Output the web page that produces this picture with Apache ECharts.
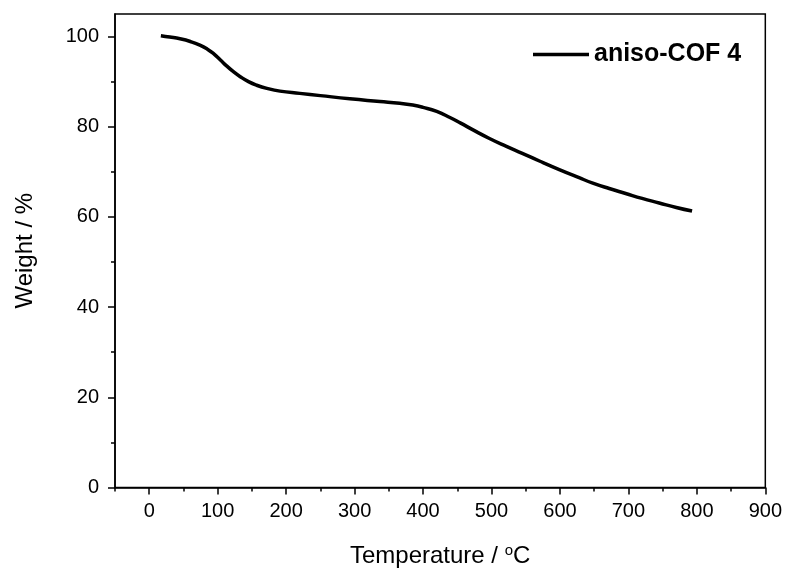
<!DOCTYPE html>
<html>
<head>
<meta charset="utf-8">
<script src="https://cdn.jsdelivr.net/npm/echarts@6/dist/echarts.min.js"></script>
<style>
  html, body { margin: 0; padding: 0; background: #fff; }
  #chart { width: 785px; height: 573px; }
</style>
</head>
<body>
<div id="chart"></div>
<script>
// TGA curve
const temps = [17, 30, 45, 60, 74, 85, 94, 104, 113, 123, 133, 145, 157, 172, 191, 220, 250, 293, 337, 366, 385, 400, 420, 440, 455, 473, 497, 521, 545, 570, 599, 628, 648, 672, 696, 720, 745, 770, 793]
const weights = [100.2, 99.9, 99.5, 98.9, 98.1, 97.2, 96.2, 94.8, 93.5, 92.2, 91.1, 90.0, 89.2, 88.5, 87.9, 87.4, 86.9, 86.2, 85.6, 85.2, 84.8, 84.3, 83.4, 82.0, 80.8, 79.3, 77.4, 75.7, 74.1, 72.4, 70.5, 68.7, 67.5, 66.3, 65.2, 64.1, 63.1, 62.1, 61.3]

const xTicks = [0, 100, 200, 300, 400, 500, 600, 700, 800, 900]
const xMinorTicks = [-50, 50, 150, 250, 350, 450, 550, 650, 750, 850]
const yTicks = [0, 20, 40, 60, 80, 100]
const yMinorTicks = [10, 30, 50, 70, 90]

const seriesName = 'aniso-COF 4'
const font = "'Liberation Sans', Arial, sans-serif"

const chart = echarts.init(document.getElementById('chart'), null, { renderer: 'canvas' })

const baseX = {
  type: 'value',
  position: 'bottom',
  min: -50,
  max: 900,
  splitLine: { show: false }
}
const baseY = {
  type: 'value',
  position: 'left',
  min: 0,
  max: 105,
  splitLine: { show: false }
}

const option = {
  backgroundColor: '#fff',
  animation: false,
  grid: {
    left: 115,
    right: 18,
    top: 14,
    bottom: 81,
    show: true,
    borderColor: '#000',
    borderWidth: 1.5
  },
  legend: {
    data: [seriesName],
    left: 528,
    top: 37,
    icon: 'rect',
    itemWidth: 56,
    itemHeight: 3.5,
    textStyle: { fontFamily: font, fontSize: 25, fontWeight: 'bold', color: '#000' }
  },
  xAxis: [
    {
      ...baseX,
      name: 'Temperature / {sup|o}C',
      nameLocation: 'middle',
      nameGap: 56,
      nameTextStyle: {
        fontFamily: font, fontSize: 24, color: '#000',
        rich: { sup: { fontFamily: font, fontSize: 15, color: '#000', verticalAlign: 'top', padding: [0, 0, 10, 0] } }
      },
      axisLine: { onZero: false, lineStyle: { color: '#000', width: 1.5 } },
      axisTick: { customValues: xTicks, length: 7, lineStyle: { color: '#000', width: 1.5 } },
      axisLabel: { customValues: xTicks, margin: 14, fontFamily: font, fontSize: 20, color: '#000' }
    },
    {
      ...baseX,
      axisLine: { show: false, onZero: false },
      axisTick: { customValues: xMinorTicks, length: 4, lineStyle: { color: '#000', width: 1.5 } },
      axisLabel: { show: false }
    }
  ],
  yAxis: [
    {
      ...baseY,
      name: 'Weight / %',
      nameLocation: 'middle',
      nameGap: 78,
      nameTextStyle: { fontFamily: font, fontSize: 24, color: '#000' },
      axisLine: { onZero: false, lineStyle: { color: '#000', width: 1.5 } },
      axisTick: { customValues: yTicks, length: 7, lineStyle: { color: '#000', width: 1.5 } },
      axisLabel: { customValues: yTicks, margin: 16, fontFamily: font, fontSize: 20, color: '#000' }
    },
    {
      ...baseY,
      axisLine: { show: false, onZero: false },
      axisTick: { customValues: yMinorTicks, length: 4, lineStyle: { color: '#000', width: 1.5 } },
      axisLabel: { show: false }
    }
  ],
  series: [
    {
      name: seriesName,
      type: 'line',
      xAxisIndex: 0,
      yAxisIndex: 0,
      data: temps.map((t, i) => [t, weights[i]]),
      smooth: 0.5,
      symbol: 'none',
      lineStyle: { color: '#000', width: 3.5 },
      itemStyle: { color: '#000' }
    }
  ]
}

chart.setOption(option)
</script>
</body>
</html>
